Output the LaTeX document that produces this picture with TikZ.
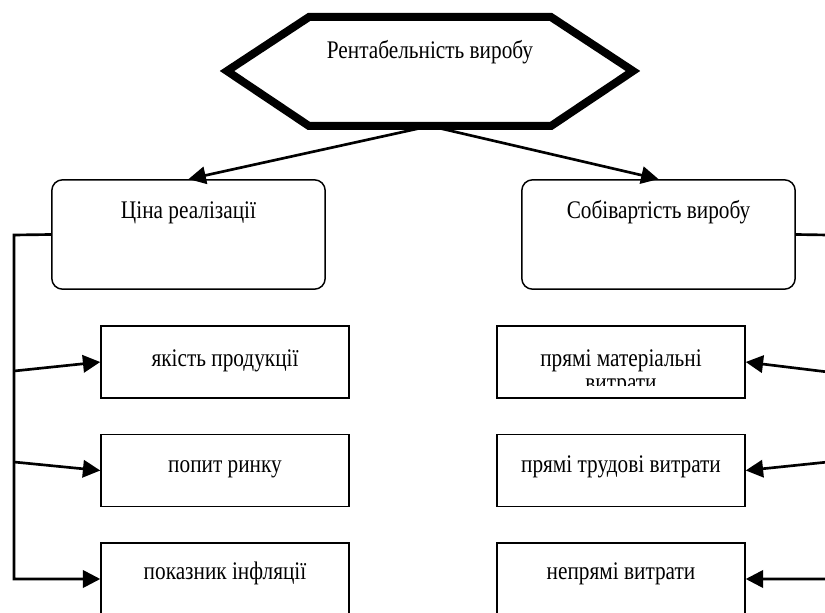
\documentclass[tikz,border=0pt]{standalone}
\usepackage{fontspec}
\setmainfont{Liberation Serif}[FakeStretch=0.84]
\usetikzlibrary{arrows.meta, positioning}

\begin{document}
\begin{tikzpicture}[x=0.75pt, y=-0.75pt,
  box/.style={draw, line width=1.1pt, minimum width=186pt, minimum height=54pt, inner sep=0pt},
  rbox/.style={draw, line width=1.1pt, rounded corners=8pt, minimum width=205pt, minimum height=82pt, inner sep=0pt},
  txt/.style={font=\fontsize{19pt}{18pt}\selectfont, anchor=base, inner sep=0pt, align=center},
  arr/.style={-{Triangle[length=13pt, width=13pt]}, line width=2pt}]
  \path[use as bounding box, clip] (0,0) rectangle (825,613);

  % Hexagon
  \draw[line width=6pt, line join=miter] (227,71) -- (309,17) -- (551,17) -- (633,71) -- (551,126) -- (309,126) -- cycle;
  \node[txt] (profit) at (430,59) {Рентабельність виробу};
  \coordinate (hexbot) at (430,126);

  % Main factors
  \node[rbox] (price) at (188.5,234.5) {};
  \node[rbox] (cost) at (658.5,234.5) {};
  \node[txt] (pricetxt) at (188.5,219) {Ціна реалізації};
  \node[txt] (costtxt) at (658.5,219) {Собівартість виробу};

  \draw[arr] (hexbot) -- (price.north);
  \draw[arr] (hexbot) -- (cost.north);

  % Price factors
  \node[box] (quality) at (225,362) {};
  \node[box] (demand) at (225,470.5) {};
  \node[box] (inflation) at (225,579) {};
  \node[txt] (qualitytxt) at (225,366) {якість продукції};
  \node[txt] (demandtxt) at (225,472) {попит ринку};
  \node[txt] (inflationtxt) at (225,579) {показник інфляції};

  \coordinate (lbus) at (14,235);
  \coordinate (lq) at (14,371);
  \coordinate (ld) at (14,462);
  \draw[arr] (price.west) -- (lbus) |- (inflation.west);
  \draw[arr] (lq) -- (quality.west);
  \draw[arr] (ld) -- (demand.west);

  % Cost factors
  \node[box] (material) at (621,362) {};
  \node[box] (labour) at (621,470.5) {};
  \node[box] (overhead) at (621,579) {};
  \begin{scope}
    \clip (material.north west) rectangle ([yshift=9.75pt]material.south east);
    \node[txt] (materialtxt) at (621,390) {прямі матеріальні\\витрати};
  \end{scope}
  \node[txt] (labourtxt) at (621,472) {прямі трудові витрати};
  \node[txt] (overheadtxt) at (621,579) {непрямі витрати};

  \coordinate (rbus) at (828,235);
  \coordinate (rm) at (828,372);
  \coordinate (rl) at (828,462);
  \draw[arr] (cost.east) -- (rbus) |- (overhead.east);
  \draw[arr] (rm) -- (material.east);
  \draw[arr] (rl) -- (labour.east);
\end{tikzpicture}
\end{document}
